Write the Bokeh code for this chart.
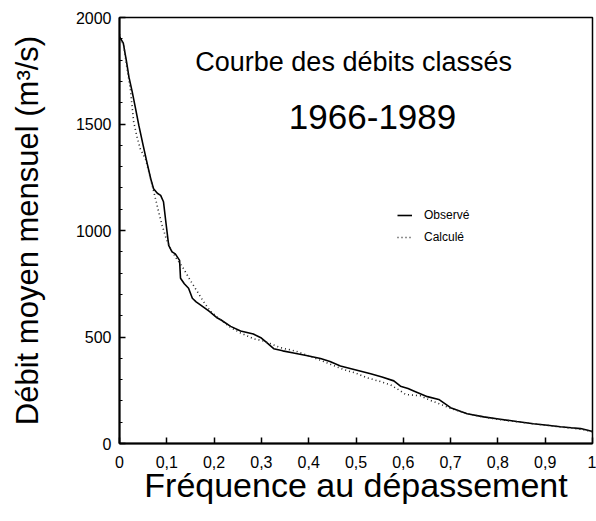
from bokeh.plotting import figure
from bokeh.models import Range1d, FixedTicker, CustomJSTickFormatter, Legend, LegendItem, Label
from bokeh.embed import file_html
from bokeh.resources import INLINE

# Observed flow-duration curve (solid)
obs_freq = [0.000, 0.008, 0.015, 0.020, 0.027, 0.035, 0.041, 0.050, 0.058, 0.066,
            0.072, 0.080, 0.087, 0.093, 0.098, 0.104, 0.111, 0.118, 0.127, 0.129,
            0.137, 0.146, 0.154, 0.162, 0.171, 0.190, 0.207, 0.214, 0.235, 0.256,
            0.283, 0.300, 0.312, 0.326, 0.345, 0.368, 0.395, 0.425, 0.445, 0.467,
            0.500, 0.531, 0.555, 0.580, 0.594, 0.610, 0.622, 0.651, 0.675, 0.700,
            0.735, 0.770, 0.805, 0.840, 0.875, 0.905, 0.932, 0.955, 0.975, 0.990, 1.000]
obs_q = [1910, 1880, 1790, 1720, 1650, 1560, 1492, 1400, 1320, 1243,
         1196, 1175, 1165, 1135, 1040, 930, 900, 890, 860, 776,
         750, 729, 682, 665, 651, 620, 589, 581, 550, 528,
         514, 495, 472, 445, 435, 425, 413, 399, 385, 364,
         345, 327, 312, 294, 269, 258, 247, 220, 207, 168,
         140, 125, 114, 103, 93, 86, 79, 74, 70, 62, 56]

# Calculated flow-duration curve (dotted)
calc_freq = [0.000, 0.009, 0.016, 0.023, 0.030, 0.037, 0.044, 0.055, 0.065, 0.076,
             0.083, 0.090, 0.099, 0.108, 0.120, 0.135, 0.150, 0.164, 0.178, 0.192,
             0.215, 0.235, 0.256, 0.283, 0.305, 0.340, 0.372, 0.420, 0.474, 0.500,
             0.524, 0.550, 0.573, 0.594, 0.605, 0.636, 0.660, 0.679, 0.700, 0.735,
             0.770, 0.805, 0.840, 0.875, 0.905, 0.932, 0.955, 0.975, 0.990, 1.000]
calc_q = [1920, 1866, 1760, 1664, 1509, 1440, 1383, 1336, 1250, 1150,
          1085, 1025, 960, 915, 870, 822, 765, 715, 665, 621,
          578, 545, 519, 492, 481, 450, 434, 395, 347, 330,
          308, 292, 275, 247, 230, 224, 200, 184, 165, 140,
          124, 112, 102, 92, 85, 78, 72, 67, 60, 55]

x_ticks = [0, 0.1, 0.2, 0.3, 0.4, 0.5, 0.6, 0.7, 0.8, 0.9, 1]
y_ticks = [0, 500, 1000, 1500, 2000]
y_minor = [0, 100, 200, 300, 400, 500, 600, 700, 800, 900, 1000,
           1100, 1200, 1300, 1400, 1500, 1600, 1700, 1800, 1900, 2000]

FONT = "Liberation Sans"

p = figure(width=596, height=521, output_backend="svg", toolbar_location=None,
           x_range=Range1d(0, 1), y_range=Range1d(0, 2000),
           min_border_left=119, min_border_right=4, min_border_top=17, min_border_bottom=78)
p.grid.visible = False
p.background_fill_color = "white"
p.border_fill_color = "white"
p.outline_line_color = "black"
p.outline_line_width = 1.5

r_obs = p.line(obs_freq, obs_q, line_color="black", line_width=1.6)
r_calc = p.line(calc_freq, calc_q, line_color="#222222", line_width=1.6, line_dash="1 3")

xa = p.xaxis[0]
xa.ticker = FixedTicker(ticks=x_ticks, minor_ticks=[])
xa.formatter = CustomJSTickFormatter(code="""
if (Math.abs(tick) < 1e-9 || Math.abs(tick - 1) < 1e-9) return tick.toFixed(0);
return tick.toFixed(1).replace('.', ',');
""")
xa.axis_label = "Fréquence au dépassement"
ya = p.yaxis[0]
ya.ticker = FixedTicker(ticks=y_ticks, minor_ticks=y_minor)
ya.axis_label = "Débit moyen mensuel (m³/s)"

for ax in (xa, ya):
    ax.axis_line_color = "black"
    ax.axis_line_width = 2
    ax.major_tick_in = 6
    ax.major_tick_out = 0
    ax.major_tick_line_width = 1.5
    ax.minor_tick_in = 3
    ax.minor_tick_out = 0
    ax.major_label_text_font = FONT
    ax.major_label_text_font_size = "16px"
    ax.major_label_text_color = "black"
    ax.axis_label_text_font = FONT
    ax.axis_label_text_font_style = "normal"
    ax.axis_label_text_color = "black"
xa.axis_label_text_font_size = "34px"
ya.axis_label_text_font_size = "31px"
xa.major_label_standoff = 12
xa.axis_label_standoff = -5
ya.major_label_standoff = 8
ya.axis_label_standoff = 28

p.add_layout(Label(x=0.495, y=1789, text="Courbe des débits classés", text_align="center",
                   text_baseline="middle", text_font=FONT, text_font_size="27px", text_color="black"))
p.add_layout(Label(x=0.535, y=1535, text="1966-1989", text_align="center",
                   text_baseline="middle", text_font=FONT, text_font_size="35px", text_color="black"))

legend = Legend(items=[LegendItem(label="Observé", renderers=[r_obs]),
                       LegendItem(label="Calculé", renderers=[r_calc])],
                location=(278, 197), padding=0, margin=0, spacing=4,
                glyph_width=15, glyph_height=18, label_height=18, label_standoff=12,
                label_text_font=FONT, label_text_font_size="12px", label_text_color="black",
                border_line_alpha=0, background_fill_alpha=0)
p.add_layout(legend, "center")

open("out.html", "w").write(file_html(p, INLINE))
